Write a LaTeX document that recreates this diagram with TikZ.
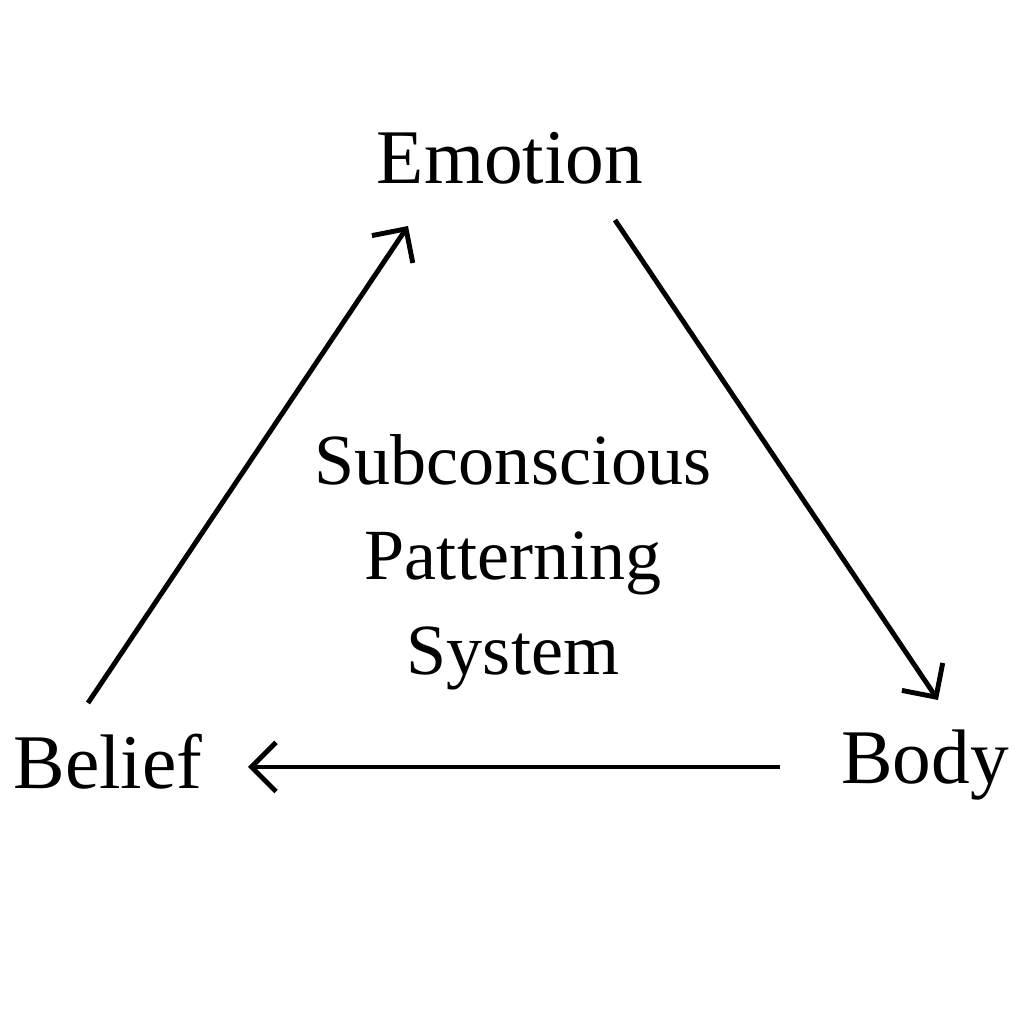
\documentclass[tikz,border=0pt]{standalone}
\usepackage{fontspec}
\setmainfont{Liberation Serif}
\usetikzlibrary{arrows.meta}
\begin{document}
\begin{tikzpicture}[
  lbl/.style={font=\fontsize{22}{26}\selectfont},
  conn/.style={line width=1.4pt,-{Straight Barb[length=7pt,width=14pt,line width=1.4pt]}}]
\useasboundingbox (0,0) rectangle (10.24,10.24);
\node[lbl] (emo) at (5.10,8.66) {Emotion};
\node[lbl] (bel) at (1.08,2.62) {Belief};
\node[lbl] (body) at (9.25,2.59) {Body};
\node[align=center,font=\fontsize{20.5}{27}\selectfont] (c) at (5.13,4.62) {Subconscious\\Patterning\\System};
\coordinate (a1) at (0.88,3.21);
\coordinate (a2) at (4.08,7.98);
\coordinate (b1) at (6.15,8.04);
\coordinate (b2) at (9.38,3.24);
\coordinate (c1) at (7.80,2.57);
\coordinate (c2) at (2.48,2.57);
\draw[conn] (a1) -- (a2);
\draw[conn] (b1) -- (b2);
\draw[conn] (c1) -- (c2);
\end{tikzpicture}
\end{document}
